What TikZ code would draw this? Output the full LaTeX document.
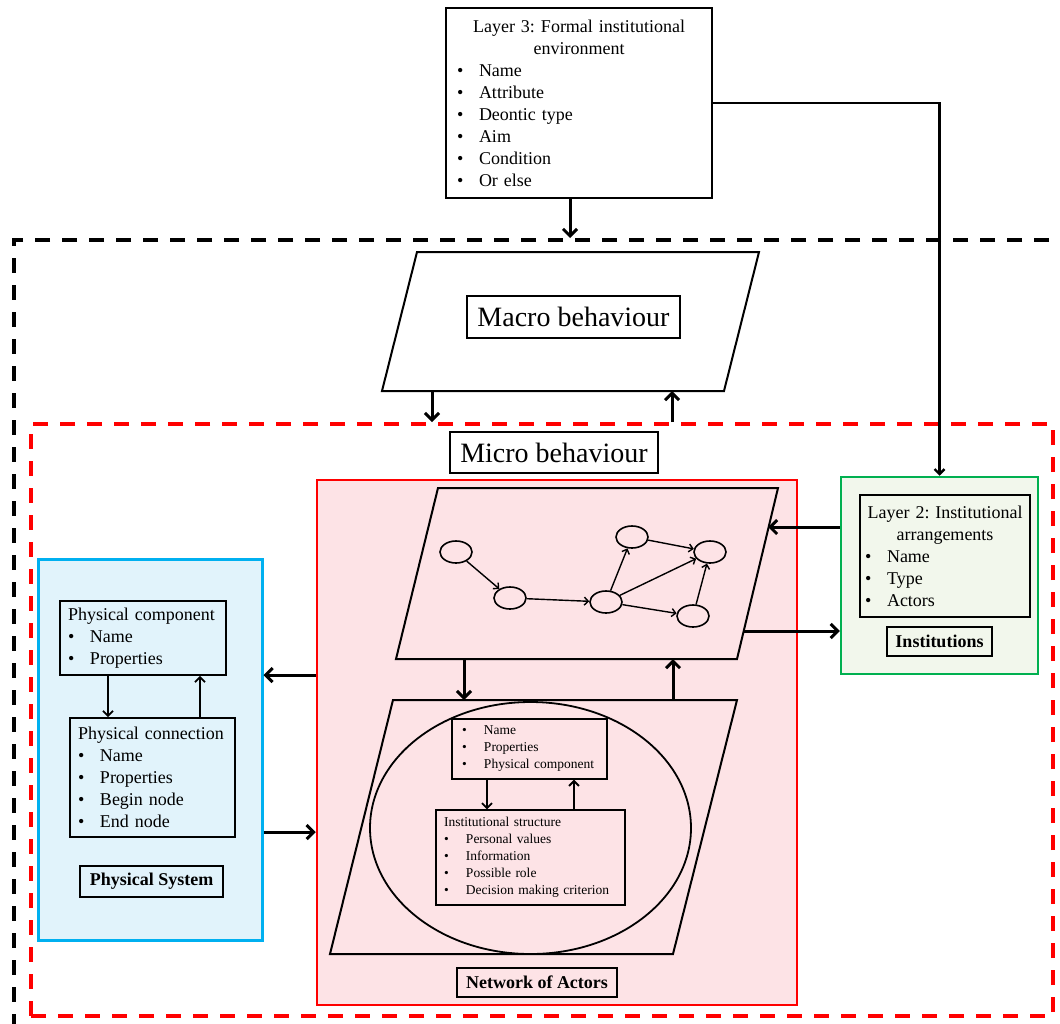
\documentclass[tikz,border=0pt]{standalone}
\usepackage{fontspec}
\setmainfont{Liberation Serif}
\usetikzlibrary{shapes.geometric,arrows.meta}
\definecolor{actpink}{RGB}{253,227,230}
\definecolor{framered}{RGB}{255,0,0}
\definecolor{physblue}{RGB}{0,176,240}
\definecolor{physfill}{RGB}{225,243,251}
\definecolor{instgreen}{RGB}{0,176,80}
\definecolor{instfill}{RGB}{242,247,236}
\newcommand{\bodysize}{\fontsize{18}{22}\selectfont}
\newcommand{\smallsize}{\fontsize{13.5}{17}\selectfont}
\newcommand{\bigsize}{\fontsize{28}{34}\selectfont}
\newcommand{\itm}[1]{\makebox[22pt][l]{\textbullet}#1}
\setlength{\parindent}{0pt}
\frenchspacing

\begin{document}
\begin{tikzpicture}[
  x=1pt, y=-1pt,
  font=\bodysize,
  zone/.style={rectangle, line width=4pt, dash pattern=on 15pt off 12pt},
  panel/.style={rectangle, line width=2.5pt},
  listbox/.style={rectangle, draw, line width=1.8pt, align=left, inner xsep=8pt, inner ysep=0pt},
  smalllist/.style={listbox, font=\smallsize, line width=1.4pt},
  tagbox/.style={rectangle, draw, line width=1.2pt, font=\bodysize\bfseries, inner sep=0pt},
  gnode/.style={ellipse, draw, line width=1.6pt, minimum width=32pt, minimum height=22pt, inner sep=0pt},
  bigarrow/.style={->, >={Straight Barb[length=7pt, width=14pt]}, line width=3pt},
  arrow/.style={->, >={Straight Barb[length=5pt, width=10pt]}, line width=1.8pt},
  edge/.style={->, >={Straight Barb[length=4pt, width=8pt]}, line width=1.4pt}
]
\path[fill=white, use as bounding box] (0,0) rectangle (1060,1023);

% Dashed zones - macro and micro level
\node[zone, draw=black, minimum width=1054pt, minimum height=790pt] (macrozone) at (541,635) {};
\node[zone, draw=framered, minimum width=1022pt, minimum height=592pt] (microzone) at (542,720) {};

% Layer 3 - formal institutional environment
\node[listbox, line width=2.2pt, text width=244pt, inner xsep=11pt, minimum height=190pt] (layer3) at (579,103)
  {{\centering Layer 3: Formal institutional\\ environment\par}\itm{Name}\\ \itm{Attribute}\\ \itm{Deontic type}\\ \itm{Aim}\\ \itm{Condition}\\ \itm{Or else}};

% Macro behaviour
\coordinate (macroTL) at (417,252);
\coordinate (macroTR) at (759,252);
\coordinate (macroBR) at (724,391);
\coordinate (macroBL) at (382,391);
\draw[line width=2pt] (macroTL) -- (macroTR) -- (macroBR) -- (macroBL) -- cycle;
\node[draw, line width=1.4pt, font=\bigsize, minimum width=213pt, minimum height=42pt, inner sep=0pt] (macrolabel) at (573.5,317) {Macro behaviour};
\node[draw, line width=1.4pt, font=\bigsize, minimum width=208pt, minimum height=41pt, inner sep=0pt] (microlabel) at (554,452.5) {Micro behaviour};

% Panels
\node[panel, draw=framered, fill=actpink, minimum width=480pt, minimum height=525pt] (network) at (557,742.5) {};
\node[panel, draw=physblue, fill=physfill, line width=3pt, minimum width=224pt, minimum height=381pt] (physsys) at (150,749.5) {};
\node[panel, draw=instgreen, fill=instfill, minimum width=197pt, minimum height=197pt] (institutions) at (939.5,575.5) {};

% Physical system
\node[listbox, text width=150pt, minimum height=74pt] (physcomp) at (143,638)
  {Physical component\\ \itm{Name}\\ \itm{Properties}};
\node[listbox, text width=149pt, minimum height=119pt] (physconn) at (152.5,777.5)
  {Physical connection\\ \itm{Name}\\ \itm{Properties}\\ \itm{Begin node}\\ \itm{End node}};
\node[tagbox, minimum width=143pt, minimum height=31pt] (physlabel) at (151.5,881.5) {Physical System};

% Institutions
\node[listbox, text width=160pt, inner xsep=5pt, minimum height=122pt] (layer2) at (945,556)
  {{\centering Layer 2: Institutional\\ arrangements\par}\itm{Name}\\ \itm{Type}\\ \itm{Actors}};
\node[tagbox, minimum width=105pt, minimum height=29pt] (instlabel) at (939.5,641.5) {Institutions};

% Network of actors - graph layer
\coordinate (gpTL) at (438,488);
\coordinate (gpTR) at (778,488);
\coordinate (gpBR) at (737,659);
\coordinate (gpBL) at (396,659);
\draw[line width=2pt] (gpTL) -- (gpTR) -- (gpBR) -- (gpBL) -- cycle;
\node[gnode] (g1) at (456,552) {};
\node[gnode] (g2) at (510,598) {};
\node[gnode] (g3) at (606,602) {};
\node[gnode] (g4) at (632,537) {};
\node[gnode] (g5) at (710,552) {};
\node[gnode] (g6) at (693,616) {};
\draw[edge] (g1) -- (g2);
\draw[edge] (g2) -- (g3);
\draw[edge] (g3) -- (g4);
\draw[edge] (g3) -- (g5);
\draw[edge] (g3) -- (g6);
\draw[edge] (g4) -- (g5);
\draw[edge] (g6) -- (g5);

% Network of actors - actor layer
\coordinate (apTL) at (393,700);
\coordinate (apTR) at (737,700);
\coordinate (apBR) at (673,954);
\coordinate (apBL) at (330,954);
\draw[line width=2pt] (apTL) -- (apTR) -- (apBR) -- (apBL) -- cycle;
\node[ellipse, draw, line width=1.8pt, minimum width=321pt, minimum height=252pt] (actor) at (530.5,828) {};
\node[smalllist, text width=135pt, inner xsep=10pt, minimum height=60pt] (actorattr) at (529.5,749)
  {\itm{Name}\\ \itm{Properties}\\ \itm{Physical component}};
\node[smalllist, text width=173pt, minimum height=95pt] (inststruct) at (530.5,857.5)
  {Institutional structure\\ \itm{Personal values}\\ \itm{Information}\\ \itm{Possible role}\\ \itm{Decision making criterion}};
\node[tagbox, minimum width=160pt, minimum height=29pt] (netlabel) at (537,982.5) {Network of Actors};

% Arrow positions
\coordinate (l3drop) at (570,0);
\coordinate (mdown) at (432,0);
\coordinate (mup) at (672,0);
\coordinate (adown) at (464,0);
\coordinate (aup) at (673,0);
\coordinate (gin) at (768,527);
\coordinate (gout) at (744,631);
\coordinate (pin) at (0,675);
\coordinate (pout) at (0,832);
\coordinate (pdown) at (108,0);
\coordinate (pup) at (200,0);
\coordinate (idown) at (487,0);
\coordinate (iup) at (574,0);

% Arrows
\draw[bigarrow] (layer3.south -| l3drop) -- (macrozone.north -| l3drop);
\draw[arrow, line width=2.4pt] (layer3.east) -| (institutions.north);
\draw[bigarrow] (macroBL -| mdown) -- (microzone.north -| mdown);
\draw[bigarrow] (microzone.north -| mup) -- (macroBL -| mup);
\draw[bigarrow] (gpBL -| adown) -- (apTL -| adown);
\draw[bigarrow] (apTL -| aup) -- (gpBL -| aup);
\draw[bigarrow] (institutions.west |- gin) -- (gin);
\draw[bigarrow] (gout) -- (institutions.west |- gout);
\draw[bigarrow] (network.west |- pin) -- (physsys.east |- pin);
\draw[bigarrow] (physsys.east |- pout) -- (network.west |- pout);
\draw[arrow] (physcomp.south -| pdown) -- (physconn.north -| pdown);
\draw[arrow] (physconn.north -| pup) -- (physcomp.south -| pup);
\draw[arrow] (actorattr.south -| idown) -- (inststruct.north -| idown);
\draw[arrow] (inststruct.north -| iup) -- (actorattr.south -| iup);

\end{tikzpicture}
\end{document}
